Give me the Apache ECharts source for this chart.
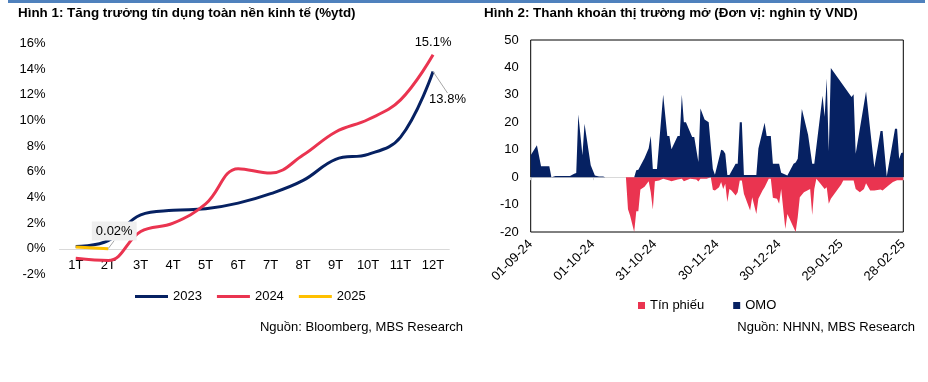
<!DOCTYPE html>
<html><head><meta charset="utf-8">
<script src="https://cdn.jsdelivr.net/npm/echarts@6/dist/echarts.min.js"></script>
<style>html,body{margin:0;padding:0;background:#fff}#c{width:928px;height:382px}</style>
</head><body><div id="c"></div>
<script>
// ---- Chart 1: credit growth (%ytd)
const months = ['1T','2T','3T','4T','5T','6T','7T','8T','9T','10T','11T','12T'];
const credit2023 = [0.18,0.65,2.65,3.0,3.12,3.56,4.3,5.33,6.97,7.36,8.7,13.8];
const credit2024 = [-0.73,-0.9,1.35,2.0,3.5,6.24,5.9,7.3,9.1,10.07,11.6,15.1];
const credit2025 = [0.15,0.02];

// ---- Chart 2: open market liquidity (nghìn tỷ VND)
const omoDates = ['2024-09-01','2024-09-04','2024-09-06','2024-09-10','2024-09-11','2024-09-13','2024-09-20','2024-09-22','2024-09-23','2024-09-24','2024-09-26','2024-09-27','2024-09-30',
'2024-10-02','2024-10-04','2024-10-06','2024-10-07','2024-10-21','2024-10-22','2024-10-23','2024-10-26','2024-10-28','2024-10-29','2024-10-30',
'2024-11-01','2024-11-04','2024-11-06','2024-11-07','2024-11-08','2024-11-11','2024-11-12','2024-11-13','2024-11-14','2024-11-15','2024-11-18','2024-11-19','2024-11-21','2024-11-22','2024-11-24','2024-11-26','2024-11-28','2024-11-29',
'2024-12-02','2024-12-03','2024-12-04','2024-12-05','2024-12-06','2024-12-09','2024-12-10','2024-12-11','2024-12-12','2024-12-13','2024-12-19','2024-12-20','2024-12-23','2024-12-24','2024-12-26','2024-12-27','2024-12-30','2024-12-31',
'2025-01-03','2025-01-06','2025-01-07','2025-01-08','2025-01-10','2025-01-13','2025-01-15','2025-01-16','2025-01-20','2025-01-21','2025-01-22','2025-01-23','2025-01-24',
'2025-02-03','2025-02-04','2025-02-05','2025-02-10','2025-02-14','2025-02-17','2025-02-18','2025-02-20','2025-02-24','2025-02-25','2025-02-26','2025-02-27','2025-02-28'];
const omoValues = [8,11.6,4,4,0,0.4,0.4,1.2,1.5,22.8,8,19.5,4.3,
0.6,0.2,0.2,0,0,2.5,2.7,7,10.5,15,3,
3,30,15,15,10.2,15,15,30,20,20,14.6,14.6,5.5,25,21,20,3,0.9,
10,9.7,8.5,0.8,0.8,4.9,4.9,20,20,0.8,0.8,10.4,19.8,15,15,4.9,4.9,1.6,
0.6,4.9,5.3,6.7,24.8,15.5,4.9,4.9,29.7,22,36,9.5,39.8,
29.2,30.2,8.5,31.2,3.5,16.8,16.8,0.2,17.6,17.6,6.6,8.8,9];

const tpDates = ['2024-10-17','2024-10-18','2024-10-19','2024-10-21','2024-10-22','2024-10-23','2024-10-24','2024-10-26','2024-10-28','2024-10-29','2024-10-30','2024-10-31',
'2024-11-02','2024-11-04','2024-11-07','2024-11-08','2024-11-11','2024-11-13','2024-11-14','2024-11-17','2024-11-20','2024-11-21','2024-11-22','2024-11-25','2024-11-27','2024-11-28','2024-11-29',
'2024-12-01','2024-12-02','2024-12-03','2024-12-04','2024-12-05','2024-12-06','2024-12-07','2024-12-09','2024-12-10','2024-12-11','2024-12-12','2024-12-13','2024-12-16','2024-12-17','2024-12-19','2024-12-20','2024-12-22','2024-12-23','2024-12-25','2024-12-26','2024-12-27','2024-12-29','2024-12-30','2024-12-31',
'2025-01-02','2025-01-03','2025-01-07','2025-01-08','2025-01-09','2025-01-11','2025-01-14','2025-01-15','2025-01-16','2025-01-17','2025-01-19','2025-01-21','2025-01-22','2025-01-23','2025-01-24','2025-01-29','2025-01-30',
'2025-02-04','2025-02-05','2025-02-07','2025-02-09','2025-02-10','2025-02-12','2025-02-14','2025-02-17','2025-02-18','2025-02-21','2025-02-23','2025-02-25','2025-02-28'];
const tpValues = [0,-11.7,-14,-20,-12.4,-12.4,-4.5,-3.5,-1.5,-5.5,-11.8,-1.5,
-1.2,-0.6,-1.2,-1.5,-0.9,-0.6,-1.5,-0.6,-0.9,-1.6,-0.6,-0.6,0,-4.6,-4.9,
-3.7,-1.8,-4.3,-2.4,-9.1,-4.3,-4.9,-6.7,-5.5,-1.2,-1.2,-6.1,-12.2,-7.3,-13.4,-7.9,-4.9,-3.7,-0.6,-0.6,-7.5,-7.9,-9.7,-4.3,
-18.9,-13.4,-20,-14.6,-7.3,-5.5,-4.3,-13.8,-4.3,-0.6,-2.4,-4.3,-3.7,-9.7,-7.9,-2.7,-1.2,
-1.2,-4.3,-5.5,-4.3,-2.2,-4.9,-4.9,-4.5,-4.9,-3,-1.8,-1.1,-1.1];

const startDate = '2024-09-01';
const DAY = 86400000;
function utc(s){const p=s.split('-').map(Number);return Date.UTC(p[0],p[1]-1,p[2]);}
function dayIndex(s){return Math.round((utc(s)-utc(startDate))/DAY);}
function fmtDay(d){const dt=new Date(utc(startDate)+d*DAY);const z=n=>String(n).padStart(2,'0');return z(dt.getUTCDate())+'-'+z(dt.getUTCMonth()+1)+'-'+String(dt.getUTCFullYear()).slice(2);}

const NAVY='#062162', RED='#ea3450', YEL='#ffc000';
const FONT='Liberation Sans';
const txt={fontFamily:FONT,fontSize:13,color:'#000'};
const lbl={fontFamily:FONT,fontSize:13,color:'#000'};

const chart = echarts.init(document.getElementById('c'), null, {renderer:'canvas'});
const last = months.length-1;
chart.setOption({
  animation:false,
  textStyle:{fontFamily:FONT},
  title:[
    {text:'Hình 1: Tăng trưởng tín dụng toàn nền kinh tế (%ytd)',left:18,top:7,padding:0,textStyle:{fontFamily:FONT,fontSize:13.4,fontWeight:'bold',color:'#000'}},
    {text:'Hình 2: Thanh khoản thị trường mở (Đơn vị: nghìn tỷ VND)',left:484,top:7,padding:0,textStyle:{fontFamily:FONT,fontSize:13.4,fontWeight:'bold',color:'#000'}},
    {text:'Nguồn: Bloomberg, MBS Research',right:465,top:321,padding:0,textStyle:Object.assign({},txt,{fontWeight:'normal'})},
    {text:'Nguồn: NHNN, MBS Research',right:13,top:321,padding:0,textStyle:Object.assign({},txt,{fontWeight:'normal'})}
  ],
  graphic:[{type:'rect',left:8,top:0,shape:{width:917,height:3},style:{fill:'#4f81bd'}}],
  legend:[
    {data:['2023','2024','2025'],left:130,top:285,icon:'rect',itemWidth:33,itemHeight:3,itemGap:15,textStyle:txt},
    {data:['Tín phiếu','OMO'],left:633,top:294,icon:'rect',itemWidth:7,itemHeight:7,itemGap:29,textStyle:txt}
  ],
  grid:[
    {left:59.5,right:478.7,top:43.3,bottom:107.4},
    {left:530.7,right:24.7,top:40,bottom:150,show:true,borderColor:'#000',borderWidth:1}
  ],
  xAxis:[
    {gridIndex:0,type:'category',data:months,boundaryGap:true,axisLine:{onZero:true,lineStyle:{color:'#d9d9d9',width:1}},axisTick:{show:false},axisLabel:Object.assign({margin:-16},txt)},
    {gridIndex:1,type:'value',min:0,max:180,interval:30,position:'bottom',axisLine:{show:false,onZero:false},axisTick:{show:false},splitLine:{show:false},
      axisLabel:Object.assign({rotate:45,margin:10,formatter:v=>fmtDay(v)},txt)},
    {gridIndex:1,type:'value',min:0,max:180,interval:30,position:'bottom',axisLine:{show:true,onZero:true,lineStyle:{color:'#d9d9d9'}},axisTick:{show:true,length:3,lineStyle:{color:'#d9d9d9'}},axisLabel:{show:false},splitLine:{show:false}}
  ],
  yAxis:[
    {gridIndex:0,type:'value',min:-2,max:16,interval:2,axisLine:{show:false},axisTick:{show:false},splitLine:{show:false},axisLabel:Object.assign({margin:14,formatter:v=>v+'%'},txt)},
    {gridIndex:1,type:'value',min:-20,max:50,interval:10,axisLine:{show:false},axisTick:{show:false},splitLine:{show:false},axisLabel:Object.assign({margin:12},txt)}
  ],
  series:[
    {name:'2023',type:'line',xAxisIndex:0,yAxisIndex:0,smooth:0.4,showSymbol:true,symbol:'circle',symbolSize:0.1,
      lineStyle:{color:NAVY,width:3},itemStyle:{color:NAVY},
      data:credit2023.map((v,i)=>i===last?{value:v,label:Object.assign({show:true,position:'right',distance:2,formatter:p=>p.value.toFixed(1)+'%'},lbl)}:v),
      labelLine:{show:true,lineStyle:{color:'#a6a6a6',width:1}},
      labelLayout:{dx:-6,dy:28}},
    {name:'2024',type:'line',xAxisIndex:0,yAxisIndex:0,smooth:0.4,showSymbol:true,symbol:'circle',symbolSize:0.1,
      lineStyle:{color:RED,width:3},itemStyle:{color:RED},
      data:credit2024.map((v,i)=>i===last?{value:v,label:Object.assign({show:true,position:'top',distance:6,formatter:p=>p.value.toFixed(1)+'%'},lbl)}:v)},
    {name:'2025',type:'line',xAxisIndex:0,yAxisIndex:0,smooth:false,showSymbol:true,symbol:'circle',symbolSize:0.1,
      lineStyle:{color:YEL,width:3},itemStyle:{color:YEL},
      data:credit2025.map((v,i)=>i===credit2025.length-1?{value:v,label:Object.assign({show:true,position:'top',distance:5,formatter:p=>p.value.toFixed(2)+'%',backgroundColor:'#efefef',padding:[3,4]},lbl)}:v),
      labelLine:{show:true,lineStyle:{color:'#a6a6a6',width:1}},
      labelLayout:{dx:6,dy:-3}},
    {name:'Tín phiếu',type:'line',xAxisIndex:1,yAxisIndex:1,showSymbol:false,symbol:'none',
      lineStyle:{width:0},itemStyle:{color:RED},areaStyle:{color:RED,opacity:1},
      data:tpDates.map((d,i)=>[dayIndex(d),tpValues[i]])},
    {name:'OMO',type:'line',xAxisIndex:1,yAxisIndex:1,showSymbol:false,symbol:'none',
      lineStyle:{width:0},itemStyle:{color:NAVY},areaStyle:{color:NAVY,opacity:1},
      data:omoDates.map((d,i)=>[dayIndex(d),omoValues[i]])}
  ]
});
</script></body></html>
